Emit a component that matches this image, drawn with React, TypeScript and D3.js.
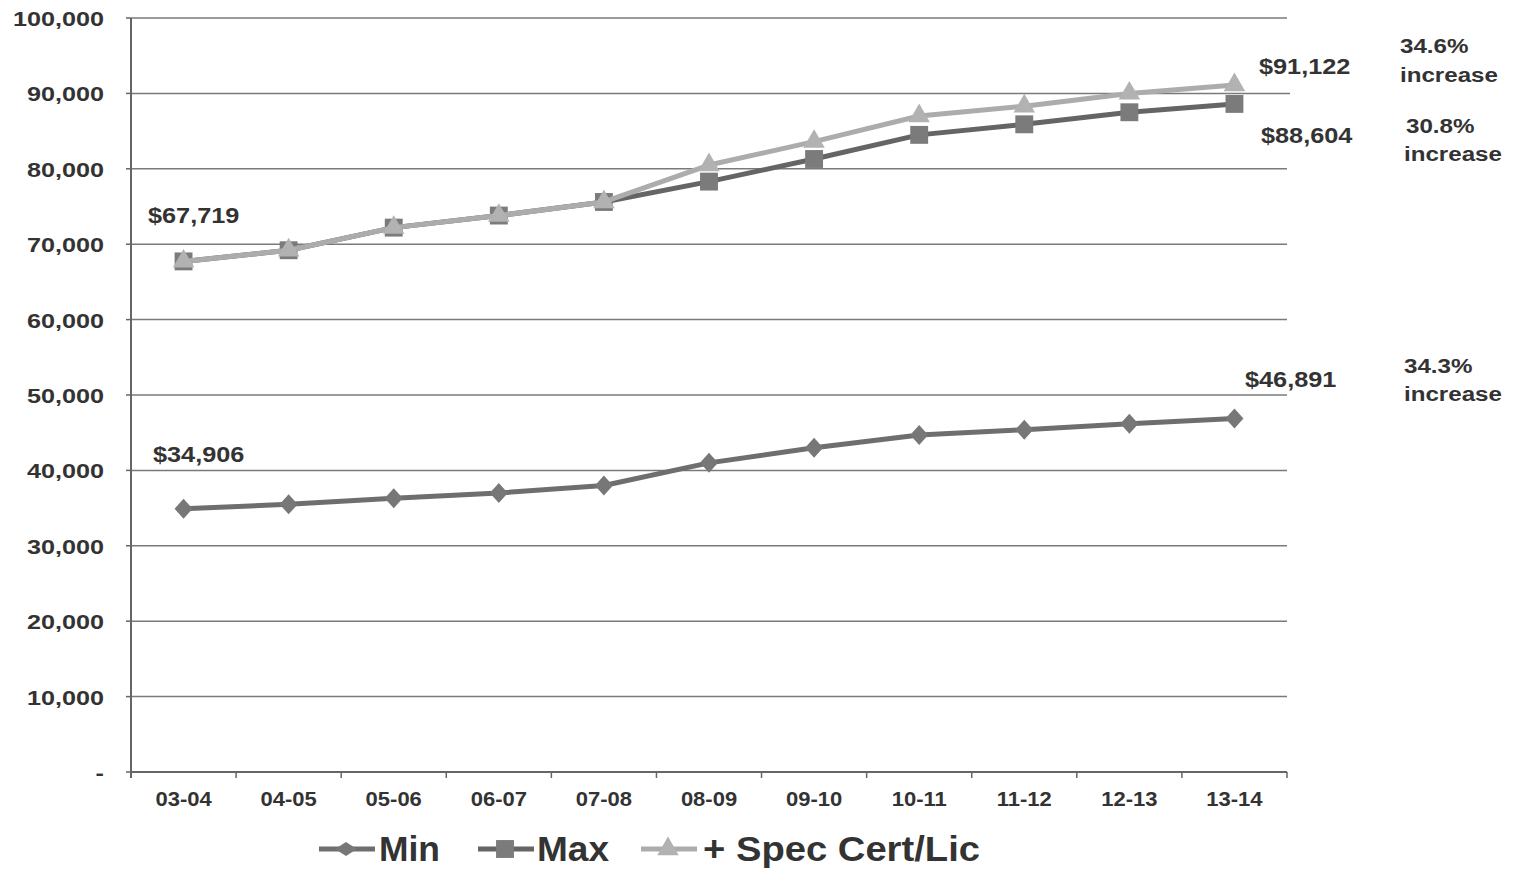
import React from "react";
import * as d3 from "d3";

const categories = ["03-04", "04-05", "05-06", "06-07", "07-08", "08-09", "09-10", "10-11", "11-12", "12-13", "13-14"];
const minValues = [34906, 35500, 36300, 37000, 38000, 41000, 43000, 44700, 45400, 46200, 46891];
const maxValues = [67719, 69200, 72200, 73800, 75600, 78300, 81300, 84500, 85900, 87500, 88604];
const specValues = [67719, 69200, 72200, 73800, 75600, 80500, 83600, 87000, 88300, 90000, 91122];
const yTicks = [0, 10000, 20000, 30000, 40000, 50000, 60000, 70000, 80000, 90000, 100000];
const seriesNames = ["Min", "Max", "+ Spec Cert/Lic"];

const W = 1518, H = 869;
const left = 131, right = 1287, top = 18, bottom = 772;
const FONT = "'Liberation Sans', Arial, sans-serif";
const textC = "#333";

function T(props: { x: number; y: number; size: number; sx?: number; anchor?: string; children: React.ReactNode; dy?: string }) {
  const { x, y, size, sx = 1.15, anchor = "start", children, dy } = props;
  return (
    <text transform={`translate(${x},${y}) scale(${sx},1)`} dy={dy} textAnchor={anchor} fontFamily={FONT} fontWeight="bold" fontSize={size} fill={textC}>
      {children}
    </text>
  );
}

export default function App() {
  const x = d3.scaleBand().domain(categories).range([left, right]).padding(0);
  const y = d3.scaleLinear().domain([0, 100000]).range([bottom, top]);
  const cx = (c: string) => (x(c) as number) + x.bandwidth() / 2;
  const line = d3.line<number>().x((_, i) => cx(categories[i])).y((v) => y(v));
  const fmt = d3.format(",");

  const diamond = d3.line()([[0, -10], [9, 0], [0, 10], [-9, 0]]) + "Z";
  const legendDiamond = d3.line()([[0, -7], [11, 0], [0, 7], [-11, 0]]) + "Z";
  const square = d3.symbol().type(d3.symbolSquare).size(320)() as string;
  const triangle = d3.symbol().type(d3.symbolTriangle).size(200)() as string;

  const series = [
    { vals: minValues, stroke: "#6e6e6e", fill: "#777", path: diamond, lpath: legendDiamond },
    { vals: maxValues, stroke: "#656565", fill: "#7b7b7b", path: square, lpath: square },
    { vals: specValues, stroke: "#acacac", fill: "#b2b2b2", path: triangle, lpath: triangle },
  ];

  const legend = [
    { lx: 319, tx: 379, tl: 61 },
    { lx: 478, tx: 537, tl: 72 },
    { lx: 641, tx: 703, tl: 277 },
  ];

  return (
    <svg width={W} height={H} style={{ display: "block", position: "absolute", left: 0, top: 0, background: "#fff" }}>
      {yTicks.map((t) => (
        <g key={t}>
          {t > 0 && <line x1={left} x2={t === 90000 ? 1290 : right} y1={y(t)} y2={y(t)} stroke="#7a7a7a" strokeWidth={1.5} />}
          <line x1={left - 5} x2={left} y1={y(t)} y2={y(t)} stroke="#666" strokeWidth={1.5} />
          <T x={104} y={y(t)} size={21} sx={1.2} anchor="end" dy="0.38em">{t === 0 ? "-" : fmt(t)}</T>
        </g>
      ))}
      <line x1={left} x2={left} y1={top} y2={bottom + 6} stroke="#666" strokeWidth={2} />
      <line x1={left} x2={right} y1={bottom} y2={bottom} stroke="#666" strokeWidth={2} />
      {categories.map((c) => (
        <g key={c}>
          <line x1={(x(c) as number) + x.bandwidth()} x2={(x(c) as number) + x.bandwidth()} y1={bottom} y2={bottom + 6} stroke="#666" strokeWidth={1.5} />
          <T x={cx(c)} y={806} size={20} sx={1.1} anchor="middle">{c}</T>
        </g>
      ))}
      {series.map((s, k) => (
        <g key={k}>
          <path d={line(s.vals) as string} fill="none" stroke={s.stroke} strokeWidth={5} strokeLinejoin="round" />
          {s.vals.map((v, i) => (
            <path key={i} d={s.path} transform={`translate(${cx(categories[i])},${y(v)})`} fill={s.fill} />
          ))}
        </g>
      ))}
      <T x={148} y={223} size={22}>$67,719</T>
      <T x={153} y={462} size={22}>$34,906</T>
      <T x={1259} y={74} size={22}>$91,122</T>
      <T x={1261} y={143} size={22}>$88,604</T>
      <T x={1245} y={387} size={22}>$46,891</T>
      <T x={1400} y={53} size={21}>34.6%</T>
      <T x={1400} y={82} size={21}>increase</T>
      <T x={1406} y={133} size={21}>30.8%</T>
      <T x={1404} y={161} size={21}>increase</T>
      <T x={1404} y={373} size={21}>34.3%</T>
      <T x={1404} y={401} size={21}>increase</T>
      {series.map((s, i) => (
        <g key={i}>
          <line x1={legend[i].lx} x2={legend[i].lx + 56} y1={849} y2={849} stroke={s.stroke} strokeWidth={5} />
          <path d={s.lpath} transform={`translate(${legend[i].lx + 27},849)`} fill={s.fill} />
          <text x={legend[i].tx} y={861} textLength={legend[i].tl} lengthAdjust="spacingAndGlyphs" fontFamily={FONT} fontWeight="bold" fontSize={35} fill={textC}>
            {seriesNames[i]}
          </text>
        </g>
      ))}
    </svg>
  );
}
